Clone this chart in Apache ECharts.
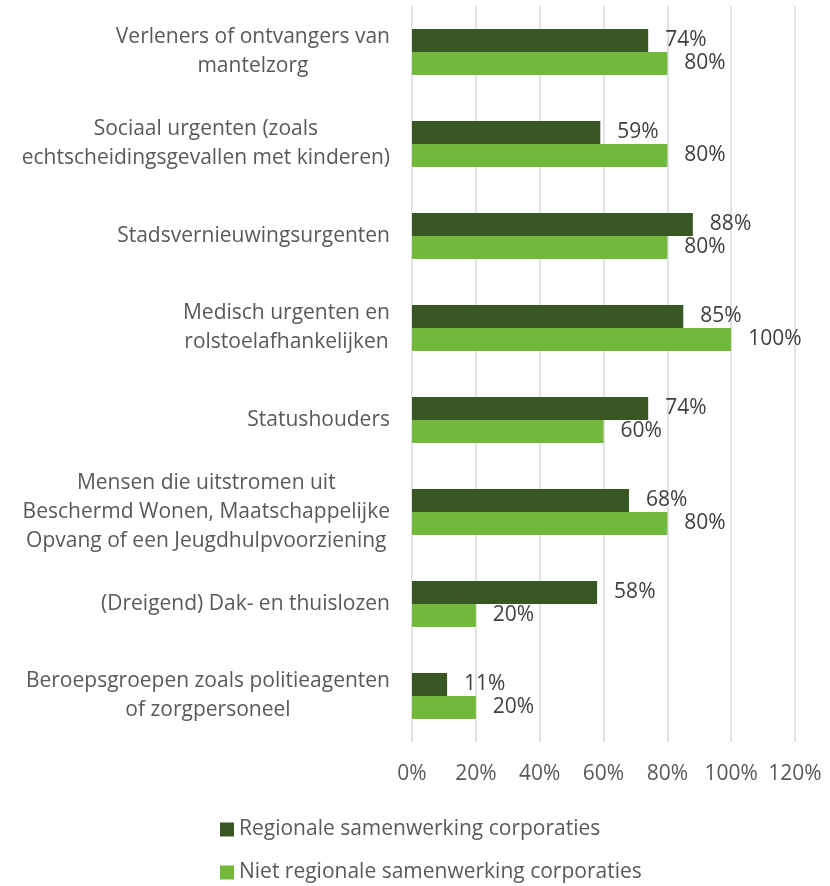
<!DOCTYPE html>
<html>
<head>
<meta charset="utf-8">
<script src="https://cdn.jsdelivr.net/npm/echarts@6/dist/echarts.min.js"></script>
<style>
    html, body {margin: 0; padding: 0; background: #fff;}
    #chart {width: 830px; height: 886px;}
</style>
</head>
<body>
<div id="chart"></div>
<script>
    // categories from top to bottom
    const categories = [
        "Verleners of ontvangers van\nmantelzorg",
        "Sociaal urgenten (zoals\nechtscheidingsgevallen met kinderen)",
        "Stadsvernieuwingsurgenten",
        "Medisch urgenten en\nrolstoelafhankelijken",
        "Statushouders",
        "Mensen die uitstromen uit\nBeschermd Wonen, Maatschappelijke\nOpvang of een Jeugdhulpvoorziening",
        "(Dreigend) Dak- en thuislozen",
        "Beroepsgroepen zoals politieagenten\nof zorgpersoneel"
    ];
    const regionaal = [74, 59, 88, 85, 74, 68, 58, 11];
    const nietRegionaal = [80, 80, 80, 100, 60, 80, 20, 20];
    const seriesNames = ["Regionale samenwerking corporaties", "Niet regionale samenwerking corporaties"];

    const font = "Open Sans";
    const fontSize = 21;
    const textColor = "#595959";

    let myChart = echarts.init(document.getElementById("chart"));

    const barLabel = {
        show: true,
        position: "right",
        distance: 17,
        formatter: "{c}%",
        fontFamily: font,
        fontSize: fontSize,
        color: "#404040"
    };

    let option = {
        animation: false,
        textStyle: {fontFamily: font},
        grid: {left: 412, right: 35, top: 6, bottom: 144},
        legend: {
            orient: "vertical",
            left: 220,
            top: 817,
            padding: 0,
            itemWidth: 14,
            itemHeight: 14,
            itemGap: 18,
            icon: "rect",
            textStyle: {fontFamily: font, fontSize: fontSize, color: textColor, lineHeight: 25},
            data: seriesNames
        },
        xAxis: {
            type: "value",
            min: 0,
            max: 120,
            interval: 20,
            axisLine: {show: false},
            axisTick: {show: false},
            splitLine: {show: true, lineStyle: {color: "#d9d9d9", width: 1.5}},
            axisLabel: {
                formatter: "{value}%",
                fontFamily: font,
                fontSize: fontSize,
                color: textColor,
                margin: 22
            }
        },
        yAxis: {
            type: "category",
            inverse: true,
            data: categories,
            axisLine: {show: false},
            axisTick: {show: false},
            axisLabel: {
                margin: 22,
                align: "right",
                lineHeight: 29,
                formatter: (val) => val.split("\n").map(s => "{c|" + s + "}").join("\n"),
                rich: {
                    c: {
                        align: "center",
                        fontFamily: font,
                        fontSize: fontSize,
                        color: textColor,
                        lineHeight: 29
                    }
                }
            }
        },
        series: [
            {
                name: seriesNames[0],
                type: "bar",
                data: regionaal,
                barCategoryGap: "50%",
                barGap: "0%",
                itemStyle: {color: "#385723"},
                label: barLabel
            },
            {
                name: seriesNames[1],
                type: "bar",
                data: nietRegionaal,
                barCategoryGap: "50%",
                barGap: "0%",
                itemStyle: {color: "#72B83A"},
                label: barLabel
            }
        ]
    };

    myChart.setOption(option);
</script>
</body>
</html>
